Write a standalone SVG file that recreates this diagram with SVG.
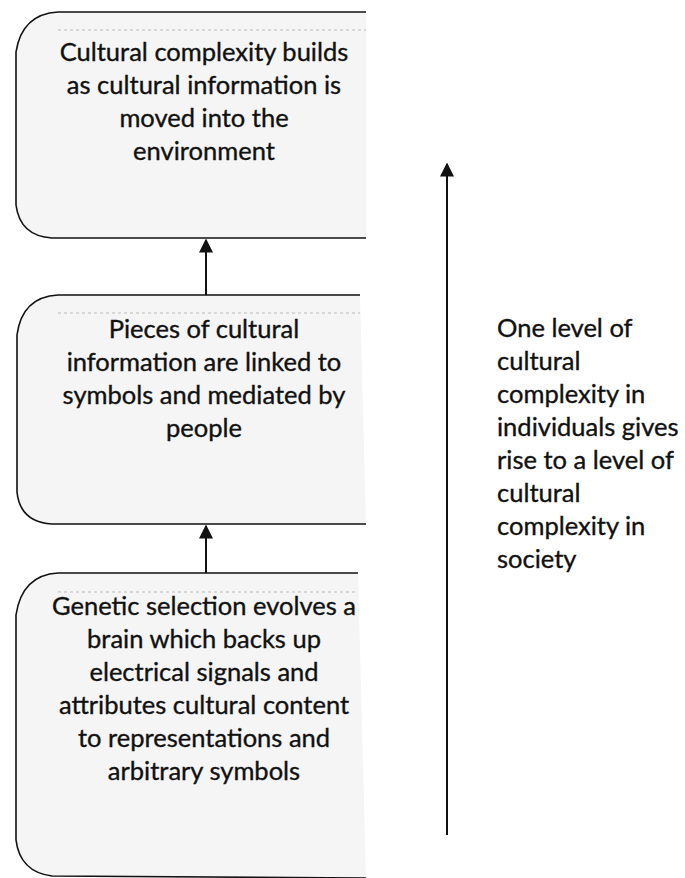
<svg xmlns="http://www.w3.org/2000/svg" width="685" height="878" viewBox="0 0 685 878">
<style>
.box{fill:#f5f5f5;stroke:#111;stroke-width:1.6}
.shade{fill:none;stroke:#bbb;stroke-width:1;stroke-dasharray:3 3}
.t{font-family:Lato,"Liberation Sans",sans-serif;font-size:25.5px;fill:#111;stroke:#111;stroke-width:0.35;text-anchor:middle}
.r{font-family:Lato,"Liberation Sans",sans-serif;font-size:25.5px;fill:#111;stroke:#111;stroke-width:0.35}
.conn{stroke:#111;stroke-width:2;fill:none}
</style>
<defs>
<marker id="ah2" viewBox="0 0 10 10" refX="9" refY="5" markerWidth="20" markerHeight="14" markerUnits="userSpaceOnUse" orient="auto">
<path d="M0,0 L10,5 L0,10 z" fill="#111"/>
</marker>
</defs>
<g id="node-top">
<path class="box" d="M366,12 L58,12 Q22,14 16,52 L16,205 Q20,236 52,238 L366,238"/>
<line class="shade" x1="58" y1="30" x2="366" y2="30"/>
<text class="t" x="204" y="61">Cultural complexity builds</text>
<text class="t" x="204" y="94">as cultural information is</text>
<text class="t" x="204" y="127">moved into the</text>
<text class="t" x="204" y="160">environment</text>
</g>
<g id="node-middle">
<path class="box" d="M360,295 L58,295 Q22,297 17,335 L17,492 Q20,522 52,524 L366,524"/>
<line class="shade" x1="58" y1="313" x2="360" y2="313"/>
<text class="t" x="204" y="338">Pieces of cultural</text>
<text class="t" x="204" y="371">information are linked to</text>
<text class="t" x="204" y="404">symbols and mediated by</text>
<text class="t" x="204" y="437">people</text>
</g>
<g id="node-bottom">
<path class="box" d="M358,573 L58,573 Q22,575 16,615 L16,840 Q20,872 52,876 L366,878"/>
<line class="shade" x1="58" y1="592" x2="358" y2="592"/>
<text class="t" x="204" y="615">Genetic selection evolves a</text>
<text class="t" x="204" y="648">brain which backs up</text>
<text class="t" x="204" y="681">electrical signals and</text>
<text class="t" x="204" y="714">attributes cultural content</text>
<text class="t" x="204" y="747">to representations and</text>
<text class="t" x="204" y="780">arbitrary symbols</text>
</g>
<g id="label-right">
<text class="r" x="497" y="337">One level of</text>
<text class="r" x="497" y="370">cultural</text>
<text class="r" x="497" y="403">complexity in</text>
<text class="r" x="497" y="436">individuals gives</text>
<text class="r" x="497" y="469">rise to a level of</text>
<text class="r" x="497" y="502">cultural</text>
<text class="r" x="497" y="535">complexity in</text>
<text class="r" x="497" y="568">society</text>
</g>
<g id="connectors">
<line class="conn" x1="206" y1="295" x2="206" y2="240" marker-end="url(#ah2)"/>
<line class="conn" x1="206" y1="573" x2="206" y2="526" marker-end="url(#ah2)"/>
<line class="conn" x1="447" y1="835" x2="447" y2="164" marker-end="url(#ah2)"/>
</g>
</svg>
